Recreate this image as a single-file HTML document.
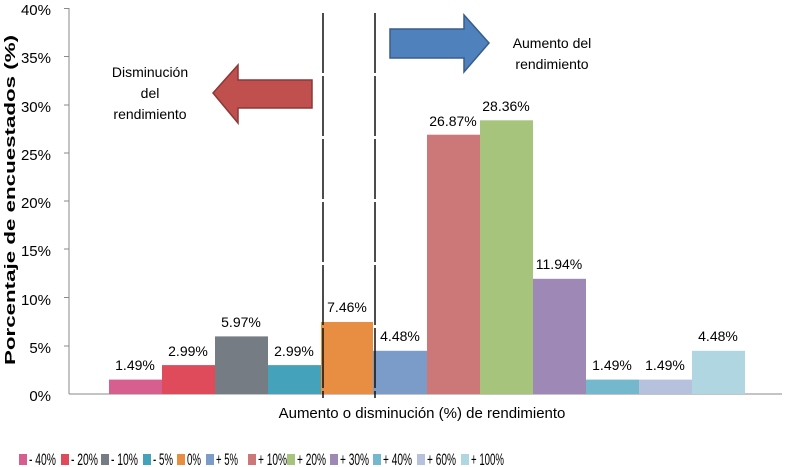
<!DOCTYPE html>
<html><head><meta charset="utf-8"><style>
body{margin:0;background:#fff;}
svg{display:block;font-family:"Liberation Sans",sans-serif;}
</style></head><body>
<svg width="786" height="467" viewBox="0 0 786 467">
<g font-size="15" fill="#000" text-anchor="end">
<text x="51" y="15">40%</text><text x="51" y="63">35%</text><text x="51" y="112">30%</text>
<text x="51" y="160">25%</text><text x="51" y="208">20%</text><text x="51" y="256">15%</text>
<text x="51" y="305">10%</text><text x="51" y="353">5%</text><text x="51" y="401">0%</text>
</g>
<g stroke="#888" stroke-width="1">
<line x1="69" y1="8" x2="69" y2="394"/><line x1="69" y1="394" x2="782" y2="394"/>
<line x1="64" y1="8.5" x2="69" y2="8.5"/><line x1="64" y1="56.5" x2="69" y2="56.5"/><line x1="64" y1="105" x2="69" y2="105"/>
<line x1="64" y1="153" x2="69" y2="153"/><line x1="64" y1="201" x2="69" y2="201"/><line x1="64" y1="249" x2="69" y2="249"/>
<line x1="64" y1="297.5" x2="69" y2="297.5"/><line x1="64" y1="346" x2="69" y2="346"/>
</g>
<text transform="translate(15,200) rotate(-90)" font-size="15" font-weight="bold" text-anchor="middle" textLength="330" lengthAdjust="spacingAndGlyphs">Porcentaje de encuestados (%)</text>
<g>
<rect x="109" y="379.6" width="53" height="14.4" fill="#d75f8f"/>
<rect x="162" y="365.1" width="53" height="28.9" fill="#df4b5a"/>
<rect x="215" y="336.4" width="53" height="57.6" fill="#767c83"/>
<rect x="268" y="365.1" width="53" height="28.9" fill="#44a3ba"/>
<rect x="321" y="322" width="52" height="72" fill="#e88e42"/>
<rect x="373" y="350.8" width="54" height="43.2" fill="#7b9bc8"/>
<rect x="427" y="134.7" width="53" height="259.3" fill="#cd7878"/>
<rect x="480" y="120.3" width="53" height="273.7" fill="#a7c47c"/>
<rect x="533" y="278.8" width="53" height="115.2" fill="#9e88b5"/>
<rect x="586" y="379.6" width="53" height="14.4" fill="#73b8cc"/>
<rect x="639" y="379.6" width="53" height="14.4" fill="#b6c2dd"/>
<rect x="692" y="350.8" width="53" height="43.2" fill="#b0d6e2"/>
</g>
<g font-size="14" text-anchor="middle">
<text x="135" y="370">1.49%</text><text x="188" y="356">2.99%</text><text x="241" y="327">5.97%</text>
<text x="294" y="356">2.99%</text><text x="347" y="312">7.46%</text><text x="400" y="341">4.48%</text>
<text x="453" y="126">26.87%</text><text x="506" y="111">28.36%</text><text x="559" y="269">11.94%</text>
<text x="612" y="370">1.49%</text><text x="665" y="370">1.49%</text><text x="718" y="341">4.48%</text>
</g>
<g stroke="#111" stroke-width="1.5">
<line x1="323" y1="13" x2="323" y2="398" stroke-dasharray="60,3"/>
<line x1="375" y1="13" x2="375" y2="398" stroke-dasharray="60,3"/>
</g>
<polygon points="213,93 238,65 238,80 312,80 312,108 238,108 238,123" fill="#c0504d" stroke="#8c3836" stroke-width="1.5"/>
<polygon points="390,29 464,29 464,15 489,43 464,72 464,58 390,58" fill="#4f81bd" stroke="#385d8a" stroke-width="1.5"/>
<g font-size="14" text-anchor="middle">
<text x="150" y="77">Disminución</text><text x="150" y="98">del</text><text x="150" y="119">rendimiento</text>
<text x="552" y="48">Aumento del</text><text x="552" y="69">rendimiento</text>
</g>
<text x="422" y="418" font-size="15" text-anchor="middle">Aumento o disminución (%) de rendimiento</text>
<g font-size="17">
<rect x="19" y="454" width="8" height="11" fill="#d75f8f"/><text x="29" y="465" textLength="27" lengthAdjust="spacingAndGlyphs">- 40%</text>
<rect x="61" y="454" width="8" height="11" fill="#df4b5a"/><text x="71" y="465" textLength="27" lengthAdjust="spacingAndGlyphs">- 20%</text>
<rect x="101" y="454" width="8" height="11" fill="#767c83"/><text x="111" y="465" textLength="27" lengthAdjust="spacingAndGlyphs">- 10%</text>
<rect x="143" y="454" width="8" height="11" fill="#44a3ba"/><text x="153" y="465" textLength="20" lengthAdjust="spacingAndGlyphs">- 5%</text>
<rect x="177" y="454" width="8" height="11" fill="#e88e42"/><text x="187" y="465" textLength="14" lengthAdjust="spacingAndGlyphs">0%</text>
<rect x="206" y="454" width="8" height="11" fill="#7b9bc8"/><text x="216" y="465" textLength="22" lengthAdjust="spacingAndGlyphs">+ 5%</text>
<rect x="248" y="454" width="8" height="11" fill="#cd7878"/><text x="258" y="465" textLength="29" lengthAdjust="spacingAndGlyphs">+ 10%</text>
<rect x="287" y="454" width="8" height="11" fill="#a7c47c"/><text x="297" y="465" textLength="29" lengthAdjust="spacingAndGlyphs">+ 20%</text>
<rect x="330" y="454" width="8" height="11" fill="#9e88b5"/><text x="340" y="465" textLength="29" lengthAdjust="spacingAndGlyphs">+ 30%</text>
<rect x="373" y="454" width="8" height="11" fill="#73b8cc"/><text x="383" y="465" textLength="29" lengthAdjust="spacingAndGlyphs">+ 40%</text>
<rect x="417" y="454" width="8" height="11" fill="#b6c2dd"/><text x="427" y="465" textLength="29" lengthAdjust="spacingAndGlyphs">+ 60%</text>
<rect x="461" y="454" width="8" height="11" fill="#b0d6e2"/><text x="471" y="465" textLength="33" lengthAdjust="spacingAndGlyphs">+ 100%</text>
</g>
</svg>
</body></html>
